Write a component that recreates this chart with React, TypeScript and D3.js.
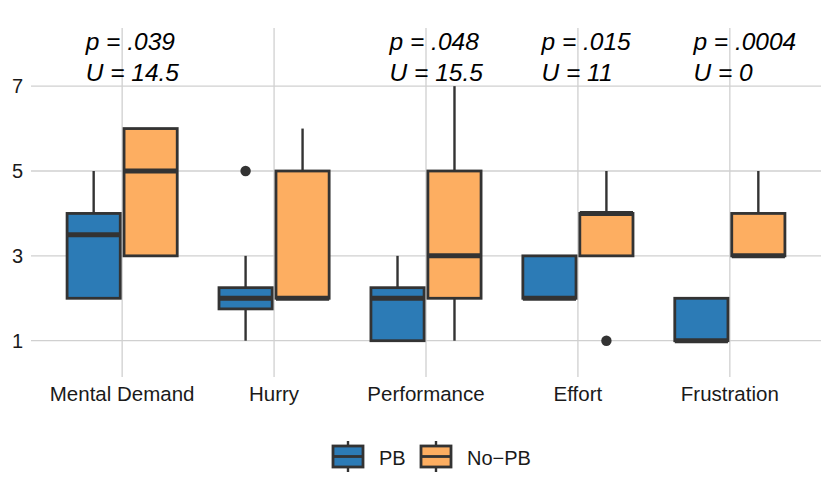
import * as d3 from 'd3';
import { useEffect, useRef } from 'react';

// box stats per category: [min, q1, median, q3, max]
const categories = ['Mental Demand', 'Hurry', 'Performance', 'Effort', 'Frustration'];
const pbStats = [
    [2, 2, 3.5, 4, 5],
    [1, 1.75, 2, 2.25, 3],
    [1, 1, 2, 2.25, 3],
    [2, 2, 2, 3, 3],
    [1, 1, 1, 2, 2],
];
const noPbStats = [
    [3, 3, 5, 6, 6],
    [2, 2, 2, 5, 6],
    [1, 2, 3, 5, 7],
    [3, 3, 4, 4, 5],
    [3, 3, 3, 4, 5],
];
const pbOutliers = [[], [5], [], [], []];
const noPbOutliers = [[], [], [], [1], []];
const pLabels = ['p = .039', '', 'p = .048', 'p = .015', 'p = .0004'];
const uLabels = ['U = 14.5', '', 'U = 15.5', 'U = 11', 'U = 0'];
const yTicks = [1, 3, 5, 7];
const seriesNames = ['PB', 'No\u2212PB'];
const colors = ['#2c7bb6', '#fdae61'];

const W = 830;
const H = 498;
const panel = { left: 31, right: 821, top: 28, bottom: 377 };
const font = '"Liberation Sans", Arial, sans-serif';
const ink = '#333333';
const grid = '#d0d0d0';

export default function App() {
    const svgRef = useRef<SVGSVGElement>(null);

    useEffect(() => {
        const svg = d3.select(svgRef.current);
        svg.selectAll('*').remove();

        const x = d3.scalePoint<string>().domain(categories).range([panel.left, panel.right]).padding(0.6);
        const step = x.step();
        const y = d3.scaleLinear().domain([0.145, 8.37]).range([panel.bottom, panel.top]);

        svg.append('rect').attr('width', W).attr('height', H).attr('fill', 'white');

        // grid
        svg.append('g')
            .selectAll('line')
            .data(yTicks)
            .enter()
            .append('line')
            .attr('x1', panel.left)
            .attr('x2', panel.right)
            .attr('y1', (d) => y(d))
            .attr('y2', (d) => y(d))
            .attr('stroke', grid)
            .attr('stroke-width', 1.3);

        svg.append('g')
            .selectAll('line')
            .data(categories)
            .enter()
            .append('line')
            .attr('x1', (d) => x(d) || 0)
            .attr('x2', (d) => x(d) || 0)
            .attr('y1', panel.top)
            .attr('y2', panel.bottom)
            .attr('stroke', grid)
            .attr('stroke-width', 1.3);

        // axis labels
        svg.append('g')
            .selectAll('text')
            .data(yTicks)
            .enter()
            .append('text')
            .attr('x', 23)
            .attr('y', (d) => y(d))
            .attr('dy', '0.35em')
            .attr('text-anchor', 'end')
            .style('font-family', font)
            .style('font-size', '20px')
            .attr('fill', '#1a1a1a')
            .text((d) => d);

        svg.append('g')
            .selectAll('text')
            .data(categories)
            .enter()
            .append('text')
            .attr('x', (d) => x(d) || 0)
            .attr('y', 401)
            .attr('text-anchor', 'middle')
            .style('font-family', font)
            .style('font-size', '20.5px')
            .attr('fill', '#1a1a1a')
            .text((d) => d);

        // boxes
        const boxW = 0.35 * step;
        const series = [
            { stats: pbStats, outliers: pbOutliers, offset: -0.1875, color: colors[0] },
            { stats: noPbStats, outliers: noPbOutliers, offset: 0.1875, color: colors[1] },
        ];

        series.forEach((s) => {
            const g = svg.append('g');
            s.stats.forEach((st, i) => {
                const cx = (x(categories[i]) || 0) + s.offset * step;
                const [mn, q1, md, q3, mx] = st;
                if (mx > q3) {
                    g.append('line')
                        .attr('x1', cx).attr('x2', cx)
                        .attr('y1', y(q3)).attr('y2', y(mx))
                        .attr('stroke', ink).attr('stroke-width', 2.4);
                }
                if (mn < q1) {
                    g.append('line')
                        .attr('x1', cx).attr('x2', cx)
                        .attr('y1', y(q1)).attr('y2', y(mn))
                        .attr('stroke', ink).attr('stroke-width', 2.4);
                }
                g.append('rect')
                    .attr('x', cx - boxW / 2)
                    .attr('y', y(q3))
                    .attr('width', boxW)
                    .attr('height', y(q1) - y(q3))
                    .attr('fill', s.color)
                    .attr('stroke', ink)
                    .attr('stroke-width', 2.8);
                g.append('line')
                    .attr('x1', cx - boxW / 2).attr('x2', cx + boxW / 2)
                    .attr('y1', y(md)).attr('y2', y(md))
                    .attr('stroke', ink).attr('stroke-width', 5);
                s.outliers[i].forEach((o) => {
                    g.append('circle')
                        .attr('cx', cx).attr('cy', y(o)).attr('r', 5.2)
                        .attr('fill', ink);
                });
            });
        });

        // annotations
        const ann = svg.append('g')
            .style('font-family', font)
            .style('font-size', '24.5px')
            .style('font-style', 'italic')
            .attr('fill', 'black');
        categories.forEach((c, i) => {
            if (!pLabels[i]) return;
            const lx = (x(c) || 0) - 0.24 * step;
            ann.append('text').attr('x', lx).attr('y', 50).text(pLabels[i]);
            ann.append('text').attr('x', lx).attr('y', 81).text(uLabels[i]);
        });

        // legend
        const legend = svg.append('g');
        const keyX = [333, 421];
        const textX = [379, 467];
        const ly = 456.5;
        seriesNames.forEach((name, i) => {
            const kx = keyX[i] + 15;
            legend.append('line')
                .attr('x1', kx).attr('x2', kx)
                .attr('y1', ly - 15.5).attr('y2', ly + 15.5)
                .attr('stroke', ink).attr('stroke-width', 2.4);
            legend.append('rect')
                .attr('x', keyX[i]).attr('y', ly - 10.5)
                .attr('width', 30).attr('height', 21)
                .attr('fill', colors[i])
                .attr('stroke', ink).attr('stroke-width', 2.8);
            legend.append('line')
                .attr('x1', keyX[i]).attr('x2', keyX[i] + 30)
                .attr('y1', ly).attr('y2', ly)
                .attr('stroke', ink).attr('stroke-width', 2.8);
            legend.append('text')
                .attr('x', textX[i]).attr('y', ly + 8)
                .style('font-family', font)
                .style('font-size', '20px')
                .attr('fill', '#1a1a1a')
                .text(name);
        });
    }, []);

    return (
        <svg
            ref={svgRef}
            width={W}
            height={H}
            style={{ position: 'absolute', left: 0, top: 0 }}
        ></svg>
    );
}
